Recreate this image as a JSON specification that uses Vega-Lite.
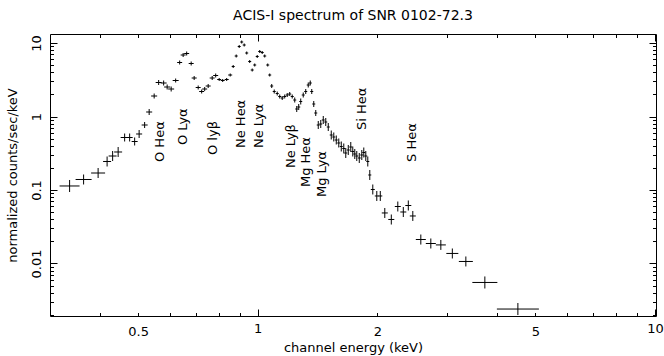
{
"$schema": "https://vega.github.io/schema/vega-lite/v6.json",
"width": 606,
"height": 282,
"autosize": {"type": "none"},
"padding": {"left": 50, "top": 34, "right": 8, "bottom": 40},
"background": "white",
"title": {"text": "ACIS-I spectrum of SNR 0102-72.3", "font": "DejaVu Sans", "fontSize": 14, "fontWeight": "normal", "color": "black", "anchor": "middle", "frame": "group", "baseline": "alphabetic", "offset": 0},
"config": {
  "view": {"stroke": null},
  "axis": {"grid": false, "labelFont": "DejaVu Sans", "titleFont": "DejaVu Sans", "labelFontSize": 13, "titleFontSize": 13, "titleFontWeight": "normal", "labelColor": "black", "titleColor": "black", "domainColor": "black", "tickColor": "black", "domainWidth": 1, "tickWidth": 1, "labelFlush": false, "labelOverlap": false}
},
"datasets": {
"spec": [
{"x":0.3361,"xlo":0.3171,"xhi":0.3561,"y":0.1134,"ylo":0.0939,"yhi":0.1368},
{"x":0.3645,"xlo":0.3480,"xhi":0.3818,"y":0.1390,"ylo":0.1188,"yhi":0.1625},
{"x":0.3965,"xlo":0.3807,"xhi":0.4129,"y":0.1703,"ylo":0.1456,"yhi":0.1992},
{"x":0.4177,"xlo":0.4081,"xhi":0.4275,"y":0.2442,"ylo":0.2088,"yhi":0.2856},
{"x":0.4313,"xlo":0.4214,"xhi":0.4414,"y":0.2901,"ylo":0.2481,"yhi":0.3393},
{"x":0.4453,"xlo":0.4351,"xhi":0.4557,"y":0.3289,"ylo":0.2812,"yhi":0.3846},
{"x":0.4624,"xlo":0.4518,"xhi":0.4732,"y":0.5179,"ylo":0.4570,"yhi":0.5871},
{"x":0.4760,"xlo":0.4678,"xhi":0.4844,"y":0.5179,"ylo":0.4570,"yhi":0.5871},
{"x":0.4900,"xlo":0.4815,"xhi":0.4986,"y":0.4569,"ylo":0.4032,"yhi":0.5179},
{"x":0.5029,"xlo":0.4942,"xhi":0.5118,"y":0.5780,"ylo":0.5099,"yhi":0.6551},
{"x":0.5192,"xlo":0.5103,"xhi":0.5284,"y":0.7662,"ylo":0.6975,"yhi":0.8417},
{"x":0.5330,"xlo":0.5238,"xhi":0.5424,"y":1.1514,"ylo":1.0481,"yhi":1.2649},
{"x":0.5487,"xlo":0.5392,"xhi":0.5583,"y":1.9007,"ylo":1.7575,"yhi":2.0555},
{"x":0.5632,"xlo":0.5535,"xhi":0.5731,"y":2.9013,"ylo":2.6827,"yhi":3.1376},
{"x":0.5797,"xlo":0.5697,"xhi":0.5899,"y":2.8562,"ylo":2.6410,"yhi":3.0889},
{"x":0.5916,"xlo":0.5814,"xhi":0.6020,"y":2.5198,"ylo":2.3300,"yhi":2.7251},
{"x":0.6055,"xlo":0.5950,"xhi":0.6161,"y":2.3668,"ylo":2.1885,"yhi":2.5596},
{"x":0.6215,"xlo":0.6108,"xhi":0.6324,"y":3.0889,"ylo":2.9012,"yhi":3.2887},
{"x":0.6361,"xlo":0.6269,"xhi":0.6454,"y":5.4287,"ylo":5.0989,"yhi":5.7799},
{"x":0.6491,"xlo":0.6398,"xhi":0.6586,"y":6.8666,"ylo":6.4494,"yhi":7.3107},
{"x":0.6625,"xlo":0.6529,"xhi":0.6721,"y":7.1970,"ylo":6.7597,"yhi":7.6626},
{"x":0.6800,"xlo":0.6702,"xhi":0.6899,"y":5.2613,"ylo":4.9416,"yhi":5.6016},
{"x":0.6919,"xlo":0.6819,"xhi":0.7020,"y":3.3405,"ylo":3.1376,"yhi":3.5566},
{"x":0.7082,"xlo":0.6980,"xhi":0.7185,"y":2.4806,"ylo":2.3299,"yhi":2.6411},
{"x":0.7227,"xlo":0.7123,"xhi":0.7332,"y":2.1885,"ylo":2.0555,"yhi":2.3300},
{"x":0.7354,"xlo":0.7248,"xhi":0.7461,"y":2.3668,"ylo":2.2230,"yhi":2.5199},
{"x":0.7504,"xlo":0.7396,"xhi":0.7614,"y":2.6000,"ylo":2.4420,"yhi":2.7682},
{"x":0.7681,"xlo":0.7570,"xhi":0.7793,"y":3.3405,"ylo":3.1376,"yhi":3.5566},
{"x":0.7838,"xlo":0.7725,"xhi":0.7953,"y":3.6127,"ylo":3.3932,"yhi":3.8464},
{"x":0.7999,"xlo":0.7907,"xhi":0.8092,"y":3.1872,"ylo":3.0409,"yhi":3.3405},
{"x":0.8163,"xlo":0.8069,"xhi":0.8258,"y":3.0889,"ylo":2.9471,"yhi":3.2375},
{"x":0.8354,"xlo":0.8258,"xhi":0.8452,"y":3.1872,"ylo":3.0409,"yhi":3.3405},
{"x":0.8526,"xlo":0.8427,"xhi":0.8625,"y":3.6697,"ylo":3.5013,"yhi":3.8462},
{"x":0.8675,"xlo":0.8600,"xhi":0.8751,"y":4.7894,"ylo":4.5696,"yhi":5.0198},
{"x":0.8828,"xlo":0.8751,"xhi":0.8905,"y":6.6548,"ylo":6.3493,"yhi":6.9749},
{"x":0.8983,"xlo":0.8905,"xhi":0.9061,"y":8.9617,"ylo":8.5503,"yhi":9.3928},
{"x":0.9114,"xlo":0.9035,"xhi":0.9193,"y":10.318,"ylo":9.8445,"yhi":10.815},
{"x":0.9247,"xlo":0.9167,"xhi":0.9328,"y":9.3929,"ylo":8.9617,"yhi":9.8447},
{"x":0.9382,"xlo":0.9301,"xhi":0.9464,"y":7.3107,"ylo":6.9750,"yhi":7.6624},
{"x":0.9547,"xlo":0.9464,"xhi":0.9630,"y":5.6016,"ylo":5.3445,"yhi":5.8711},
{"x":0.9686,"xlo":0.9602,"xhi":0.9771,"y":4.2920,"ylo":4.0950,"yhi":4.4985},
{"x":0.9828,"xlo":0.9742,"xhi":0.9913,"y":5.0198,"ylo":4.7893,"yhi":5.2613},
{"x":0.9971,"xlo":0.9885,"xhi":1.0058,"y":6.5514,"ylo":6.2507,"yhi":6.8666},
{"x":1.0117,"xlo":1.0029,"xhi":1.0205,"y":7.6624,"ylo":7.3107,"yhi":8.0310},
{"x":1.0264,"xlo":1.0175,"xhi":1.0354,"y":7.4261,"ylo":7.0852,"yhi":7.7833},
{"x":1.0414,"xlo":1.0324,"xhi":1.0506,"y":6.6548,"ylo":6.3493,"yhi":6.9749},
{"x":1.0597,"xlo":1.0505,"xhi":1.0690,"y":5.0198,"ylo":4.7893,"yhi":5.2613},
{"x":1.0721,"xlo":1.0628,"xhi":1.0815,"y":3.6697,"ylo":3.5013,"yhi":3.8462},
{"x":1.0846,"xlo":1.0752,"xhi":1.0941,"y":2.6000,"ylo":2.4420,"yhi":2.7682},
{"x":1.1004,"xlo":1.0909,"xhi":1.1100,"y":2.1885,"ylo":2.0555,"yhi":2.3300},
{"x":1.1197,"xlo":1.1100,"xhi":1.1295,"y":2.0555,"ylo":1.9307,"yhi":2.1885},
{"x":1.1361,"xlo":1.1263,"xhi":1.1460,"y":1.8712,"ylo":1.7575,"yhi":1.9922},
{"x":1.1527,"xlo":1.1427,"xhi":1.1628,"y":1.7853,"ylo":1.6768,"yhi":1.9008},
{"x":1.1695,"xlo":1.1594,"xhi":1.1797,"y":1.8712,"ylo":1.7575,"yhi":1.9922},
{"x":1.1866,"xlo":1.1763,"xhi":1.1970,"y":1.9612,"ylo":1.8420,"yhi":2.0880},
{"x":1.2039,"xlo":1.1935,"xhi":1.2144,"y":2.0236,"ylo":1.9006,"yhi":2.1545},
{"x":1.2215,"xlo":1.2109,"xhi":1.2322,"y":1.8712,"ylo":1.7575,"yhi":1.9922},
{"x":1.2394,"xlo":1.2286,"xhi":1.2502,"y":1.6768,"ylo":1.5505,"yhi":1.8134},
{"x":1.2538,"xlo":1.2429,"xhi":1.2648,"y":1.2649,"ylo":1.1514,"yhi":1.3895},
{"x":1.2684,"xlo":1.2574,"xhi":1.2795,"y":1.3467,"ylo":1.2259,"yhi":1.4794},
{"x":1.2832,"xlo":1.2721,"xhi":1.2944,"y":1.5999,"ylo":1.4564,"yhi":1.7575},
{"x":1.3020,"xlo":1.2907,"xhi":1.3134,"y":1.9612,"ylo":1.8134,"yhi":2.1210},
{"x":1.3210,"xlo":1.3096,"xhi":1.3325,"y":2.1885,"ylo":2.0236,"yhi":2.3668},
{"x":1.3403,"xlo":1.3287,"xhi":1.3520,"y":2.6827,"ylo":2.4806,"yhi":2.9013},
{"x":1.3560,"xlo":1.3442,"xhi":1.3678,"y":2.8562,"ylo":2.6410,"yhi":3.0889},
{"x":1.3678,"xlo":1.3560,"xhi":1.3797,"y":2.1885,"ylo":2.0236,"yhi":2.3668},
{"x":1.3838,"xlo":1.3718,"xhi":1.3959,"y":1.4793,"ylo":1.3466,"yhi":1.6251},
{"x":1.3999,"xlo":1.3878,"xhi":1.4121,"y":1.1159,"ylo":1.0158,"yhi":1.2258},
{"x":1.4204,"xlo":1.4081,"xhi":1.4328,"y":0.7662,"ylo":0.6760,"yhi":0.8684},
{"x":1.4411,"xlo":1.4286,"xhi":1.4537,"y":0.7906,"ylo":0.6975,"yhi":0.8961},
{"x":1.4621,"xlo":1.4495,"xhi":1.4749,"y":0.8962,"ylo":0.7907,"yhi":1.0157},
{"x":1.4835,"xlo":1.4707,"xhi":1.4965,"y":0.8417,"ylo":0.7427,"yhi":0.9540},
{"x":1.5052,"xlo":1.4922,"xhi":1.5183,"y":0.7197,"ylo":0.6350,"yhi":0.8157},
{"x":1.5316,"xlo":1.5183,"xhi":1.5450,"y":0.5601,"ylo":0.4865,"yhi":0.6449},
{"x":1.5540,"xlo":1.5405,"xhi":1.5676,"y":0.5261,"ylo":0.4570,"yhi":0.6058},
{"x":1.5767,"xlo":1.5630,"xhi":1.5905,"y":0.4789,"ylo":0.4160,"yhi":0.5514},
{"x":1.5997,"xlo":1.5858,"xhi":1.6137,"y":0.4360,"ylo":0.3787,"yhi":0.5020},
{"x":1.6231,"xlo":1.6090,"xhi":1.6373,"y":0.3907,"ylo":0.3341,"yhi":0.4569},
{"x":1.6468,"xlo":1.6325,"xhi":1.6612,"y":0.3670,"ylo":0.3138,"yhi":0.4292},
{"x":1.6660,"xlo":1.6516,"xhi":1.6806,"y":0.3187,"ylo":0.2725,"yhi":0.3727},
{"x":1.6903,"xlo":1.6756,"xhi":1.7051,"y":0.3501,"ylo":0.2994,"yhi":0.4095},
{"x":1.7150,"xlo":1.7001,"xhi":1.7300,"y":0.3846,"ylo":0.3289,"yhi":0.4498},
{"x":1.7350,"xlo":1.7200,"xhi":1.7502,"y":0.3341,"ylo":0.2856,"yhi":0.3907},
{"x":1.7552,"xlo":1.7400,"xhi":1.7706,"y":0.3089,"ylo":0.2641,"yhi":0.3613},
{"x":1.7757,"xlo":1.7603,"xhi":1.7912,"y":0.2901,"ylo":0.2481,"yhi":0.3393},
{"x":1.8016,"xlo":1.7860,"xhi":1.8174,"y":0.2725,"ylo":0.2330,"yhi":0.3187},
{"x":1.8280,"xlo":1.8121,"xhi":1.8440,"y":0.2994,"ylo":0.2560,"yhi":0.3501},
{"x":1.8493,"xlo":1.8333,"xhi":1.8655,"y":0.3237,"ylo":0.2768,"yhi":0.3786},
{"x":1.8709,"xlo":1.8547,"xhi":1.8872,"y":0.2901,"ylo":0.2481,"yhi":0.3393},
{"x":1.8927,"xlo":1.8763,"xhi":1.9092,"y":0.2442,"ylo":0.2088,"yhi":0.2856},
{"x":1.9148,"xlo":1.8982,"xhi":1.9315,"y":0.1600,"ylo":0.1368,"yhi":0.1871},
{"x":1.9484,"xlo":1.9259,"xhi":1.9711,"y":0.1016,"ylo":0.0869,"yhi":0.1188},
{"x":1.9941,"xlo":1.9711,"xhi":2.0174,"y":0.0829,"ylo":0.0709,"yhi":0.0969},
{"x":2.0350,"xlo":2.0115,"xhi":2.0587,"y":0.0829,"ylo":0.0709,"yhi":0.0969},
{"x":2.0888,"xlo":2.0527,"xhi":2.1255,"y":0.0487,"ylo":0.0416,"yhi":0.0569},
{"x":2.1691,"xlo":2.1316,"xhi":2.2072,"y":0.0397,"ylo":0.0339,"yhi":0.0464},
{"x":2.2524,"xlo":2.2135,"xhi":2.2920,"y":0.0596,"ylo":0.0510,"yhi":0.0697},
{"x":2.3254,"xlo":2.2852,"xhi":2.3662,"y":0.0502,"ylo":0.0429,"yhi":0.0587},
{"x":2.3938,"xlo":2.3524,"xhi":2.4358,"y":0.0615,"ylo":0.0526,"yhi":0.0720},
{"x":2.4571,"xlo":2.4147,"xhi":2.5003,"y":0.0443,"ylo":0.0379,"yhi":0.0518},
{"x":2.5739,"xlo":2.5003,"xhi":2.6496,"y":0.0212,"ylo":0.0181,"yhi":0.0248},
{"x":2.7275,"xlo":2.6496,"xhi":2.8078,"y":0.0187,"ylo":0.0160,"yhi":0.0219},
{"x":2.8904,"xlo":2.8078,"xhi":2.9755,"y":0.0179,"ylo":0.0153,"yhi":0.0209},
{"x":3.0898,"xlo":2.9841,"xhi":3.1992,"y":0.0137,"ylo":0.0117,"yhi":0.0160},
{"x":3.3414,"xlo":3.2085,"xhi":3.4799,"y":0.01065,"ylo":0.00911,"yhi":0.01246},
{"x":3.7306,"xlo":3.4696,"xhi":4.0113,"y":0.00552,"ylo":0.00457,"yhi":0.00666},
{"x":4.5177,"xlo":4.0000,"xhi":5.1030,"y":0.00240,"ylo":0.00199,"yhi":0.00290}
],
"lines": [
{"label":"O Heα","x":0.5665,"y":0.2404},
{"label":"O Lyα","x":0.649,"y":0.4096},
{"label":"O lyβ","x":0.7725,"y":0.2994},
{"label":"Ne Heα","x":0.906,"y":0.3727},
{"label":"Ne Lyα","x":1.0058,"y":0.3727},
{"label":"Ne Lyβ","x":1.211,"y":0.1992},
{"label":"Mg Heα","x":1.325,"y":0.1098},
{"label":"Mg Lyα","x":1.454,"y":0.0803},
{"label":"Si Heα","x":1.833,"y":0.655},
{"label":"S Heα","x":2.443,"y":0.2404}
]
},
"layer": [
{
"data": {"name": "spec"},
"mark": {"type": "rule", "color": "black", "strokeWidth": 1},
"encoding": {
"x": {"field": "xlo", "type": "quantitative", "scale": {"type": "log", "domain": [0.3, 10.06], "nice": false},
  "axis": {"orient": "bottom", "title": "channel energy (keV)", "titleBaseline": "alphabetic", "titleY": 35,
    "values": [0.4,0.5,0.6,0.7,0.8,0.9,1,2,3,4,5,6,7,8,9,10],
    "labelExpr": "(datum.value == 0.5 || datum.value == 1 || datum.value == 2 || datum.value == 5 || datum.value == 10) ? '' + datum.value : ''",
    "labelPadding": 13,
    "tickSize": {"condition": {"test": "datum.value == 1 || datum.value == 10", "value": -7}, "value": -3.5}}},
"x2": {"field": "xhi"},
"y": {"field": "y", "type": "quantitative", "scale": {"type": "log", "domain": [0.00193, 13.26], "nice": false},
  "axis": {"orient": "left", "title": "normalized counts/sec/keV", "titleX": -38, "titleY": 141, "titleBaseline": "middle", "titleAngle": 270, "titleAlign": "center",
    "values": [0.002,0.003,0.004,0.005,0.006,0.007,0.008,0.009,0.01,0.02,0.03,0.04,0.05,0.06,0.07,0.08,0.09,0.1,0.2,0.3,0.4,0.5,0.6,0.7,0.8,0.9,1,2,3,4,5,6,7,8,9,10],
    "labelExpr": "(datum.value == 0.01 || datum.value == 0.1 || datum.value == 1 || datum.value == 10) ? '' + datum.value : ''",
    "labelAngle": 270, "labelAlign": "center", "labelBaseline": "alphabetic", "labelPadding": 17,
    "tickSize": {"condition": {"test": "datum.value == 0.01 || datum.value == 0.1 || datum.value == 1 || datum.value == 10", "value": -7}, "value": -3.5}}}
}
},
{
"data": {"name": "spec"},
"mark": {"type": "rule", "color": "black", "strokeWidth": 1},
"encoding": {
"x": {"field": "x", "type": "quantitative", "scale": {"type": "log", "domain": [0.3, 10.06], "nice": false},
  "axis": {"orient": "top", "title": null, "labels": false,
    "values": [0.4,0.5,0.6,0.7,0.8,0.9,1,2,3,4,5,6,7,8,9,10],
    "tickSize": {"condition": {"test": "datum.value == 1 || datum.value == 10", "value": -7}, "value": -3.5}}},
"y": {"field": "ylo", "type": "quantitative", "scale": {"type": "log", "domain": [0.00193, 13.26], "nice": false},
  "axis": {"orient": "right", "title": null, "labels": false,
    "values": [0.002,0.003,0.004,0.005,0.006,0.007,0.008,0.009,0.01,0.02,0.03,0.04,0.05,0.06,0.07,0.08,0.09,0.1,0.2,0.3,0.4,0.5,0.6,0.7,0.8,0.9,1,2,3,4,5,6,7,8,9,10],
    "tickSize": {"condition": {"test": "datum.value == 0.01 || datum.value == 0.1 || datum.value == 1 || datum.value == 10", "value": -7}, "value": -3.5}}},
"y2": {"field": "yhi"}
}
},
{
"data": {"name": "lines"},
"mark": {"type": "text", "angle": 270, "align": "left", "baseline": "middle", "font": "DejaVu Sans", "fontSize": 13, "color": "black"},
"encoding": {
"x": {"field": "x", "type": "quantitative", "axis": null},
"y": {"field": "y", "type": "quantitative", "axis": null},
"text": {"field": "label"}
}
}
],
"resolve": {"axis": {"x": "independent", "y": "independent"}}
}
